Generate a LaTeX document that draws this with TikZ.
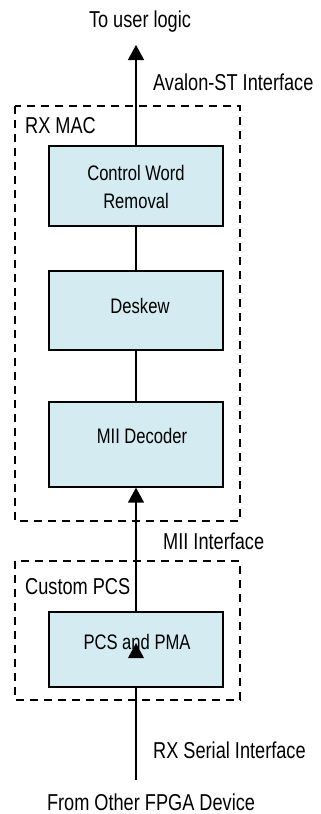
\documentclass[tikz,border=0pt]{standalone}
\usepackage{fontspec}
\setmainfont[FakeStretch=0.79]{Liberation Sans}
\usetikzlibrary{arrows.meta}
\definecolor{blockfill}{RGB}{212,235,242}
\tikzset{
  block/.style={draw=black, fill=blockfill, line width=1.2pt, minimum width=174pt, inner sep=0pt},
  group/.style={draw=black, dash pattern=on 8pt off 6pt, line width=1.5pt},
  wire/.style={draw=black, line width=1.3pt},
  label/.style={font=\fontsize{23}{26}\selectfont, inner sep=0pt, anchor=base},
  blocktext/.style={font=\fontsize{21}{28}\selectfont, inner sep=0pt, anchor=base},
  tip/.style={-{Triangle[width=16pt,length=15pt]}}
}
\begin{document}
\begin{tikzpicture}[x=1pt,y=-1pt]
\useasboundingbox (0,0) rectangle (321,814);

% dashed grouping boxes
\draw[group] (15,106) rectangle (240,521);
\draw[group] (15,561) rectangle (240,700);
\node[label, anchor=base west] (macname) at (25,133) {RX MAC};
\node[label, anchor=base west] (pcsname) at (25,594) {Custom PCS};

% processing blocks
\node[block, minimum height=80pt] (cwr) at (136,186) {};
\node[blocktext] (cwrtext1) at (136,180) {Control Word};
\node[blocktext] (cwrtext2) at (136,208) {Removal};
\node[block, minimum height=79pt] (deskew) at (136,310.5) {};
\node[blocktext] (deskewtext) at (140,313) {Deskew};
\node[block, minimum height=85pt] (mii) at (136,444.5) {};
\node[blocktext] (miitext) at (142,443) {MII Decoder};
\node[block, minimum height=75pt] (pma) at (136,649.5) {};
\node[blocktext] (pmatext) at (137,649) {PCS and PMA};

% end points
\coordinate (top) at (136,45);
\coordinate (bottom) at (136,780);
\coordinate (inner) at (136,643);

% connectors
\draw[wire, tip] (cwr.north) -- (top);
\draw[wire] (cwr.south) -- (deskew.north);
\draw[wire] (deskew.south) -- (mii.north);
\draw[wire, tip] (pma.north) -- (mii.south);
\draw[wire] (bottom) -- (pma.south);
\fill[black] (inner) -- ++(-8,15) -- ++(16,0) -- cycle;

% interface labels
\node[label] (outlabel) at (140,27) {To user logic};
\node[label, anchor=base west] (avalon) at (153,90) {Avalon-ST Interface};
\node[label, anchor=base west] (miiif) at (163,549) {MII Interface};
\node[label, anchor=base west] (serial) at (153,758) {RX Serial Interface};
\node[label] (inlabel) at (151,810) {From Other FPGA Device};
\end{tikzpicture}
\end{document}
